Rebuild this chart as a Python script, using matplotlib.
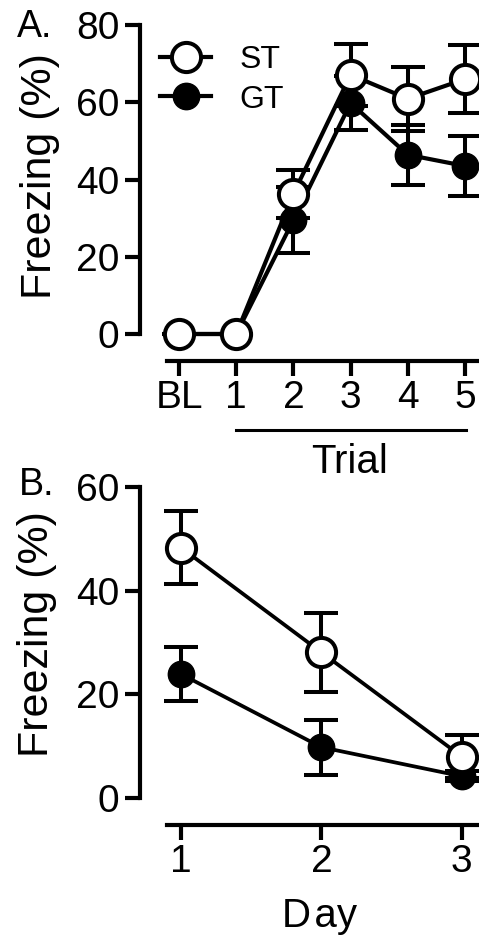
import matplotlib
matplotlib.use('Agg')
import matplotlib.pyplot as plt

plt.rcParams.update({
    'font.family': ['Liberation Sans', 'DejaVu Sans'],
    'font.size': 28,
    'axes.linewidth': 3.0,
    'xtick.major.width': 3.0,
    'ytick.major.width': 3.0,
    'xtick.major.size': 11,
    'ytick.major.size': 11,
})

# ── Panel A: acquisition (trials) ───────────────────────────────────────────
trial_labels = ['BL', '1', '2', '3', '4', '5']
st_trial = [0, 0, 36.3, 67.1, 60.9, 66.0]
st_trial_err = [0, 0, 6.2, 8.0, 8.3, 8.8]
gt_trial = [0, 0, 29.5, 59.8, 46.4, 43.5]
gt_trial_err = [0, 0, 8.6, 7.0, 7.8, 7.7]

# ── Panel B: extinction (days) ──────────────────────────────────────────────
day_labels = ['1', '2', '3']
st_day = [48.3, 28.1, 8.0]
st_day_err = [7.0, 7.6, 4.2]
gt_day = [23.9, 9.8, 4.2]
gt_day_err = [5.2, 5.3, 1.0]

W, H = 479, 941
HAIR = '\u200a'
fig = plt.figure(figsize=(W / 100, H / 100), dpi=100)


def px_axes(left, top, right, bottom):
    return fig.add_axes([left / W, 1 - bottom / H, (right - left) / W, (bottom - top) / H])


def style(ax):
    ax.spines[['top', 'right']].set_visible(False)
    ax.spines['left'].set_position(('outward', 19.4))
    ax.spines['bottom'].set_position(('outward', 19.4))
    ax.tick_params(axis='y', pad=4)
    ax.tick_params(axis='x', pad=3)


def draw(ax, x, st, st_err, gt, gt_err, lw):
    ekw = dict(fmt='none', ecolor='black', elinewidth=2.9, capsize=12,
               capthick=2.9, clip_on=False)
    ax.errorbar(x, gt, yerr=gt_err, zorder=2, **ekw)
    ax.errorbar(x, st, yerr=st_err, zorder=4, **ekw)
    l_gt, = ax.plot(x, gt, '-o', color='black', lw=lw, ms=19,
                    mfc='black', mec='black', mew=1.0, zorder=3,
                    clip_on=False, label='GT')
    l_st, = ax.plot(x, st, '-o', color='black', lw=lw, ms=21,
                    mfc='white', mec='black', mew=2.9, zorder=5,
                    clip_on=False, label='ST')
    return l_st, l_gt


# Panel A
axA = px_axes(167, 25, 479, 334)
xA = list(range(len(trial_labels)))
l_st, l_gt = draw(axA, xA, st_trial, st_trial_err, gt_trial, gt_trial_err, 3.0)
axA.set_xlim(-0.21, 5.245)
axA.set_ylim(0, 80)
axA.set_yticks([0, 20, 40, 60, 80])
axA.set_xticks(xA)
axA.set_xticklabels(trial_labels)
style(axA)
axA.legend(handles=[l_st, l_gt], loc='upper left', bbox_to_anchor=(160 / W, 1 - 45 / H),
           bbox_transform=fig.transFigure, frameon=False, fontsize=23,
           handlelength=1.6, handletextpad=0.9, labelspacing=0.3,
           borderpad=0, borderaxespad=0)

# Trial underline and label
fig.add_artist(plt.Line2D([236 / W, 466 / W], [1 - 430 / H] * 2, color='black', lw=2.2))
fig.text(350 / W, 1 - 462 / H, 'Trial', ha='center', va='center', fontsize=29)
fig.text(17 / W, 1 - 27 / H, 'A.', ha='left', va='center', fontsize=27)
fig.text(40 / W, 1 - 176 / H, 'Freezing (%)', rotation=90,
         ha='center', va='center', fontsize=31)

# Panel B
axB = px_axes(167, 487, 479, 798)
xB = [1, 2, 3]
draw(axB, xB, st_day, st_day_err, gt_day, gt_day_err, 2.7)
axB.set_xlim(0.90, 3.123)
axB.set_ylim(0, 60)
axB.set_yticks([0, 20, 40, 60])
axB.set_xticks(xB)
axB.set_xticklabels(day_labels)
style(axB)
fig.text(19 / W, 1 - 485 / H, 'B.', ha='left', va='center', fontsize=27)
fig.text(37 / W, 1 - 634 / H, 'Freezing (%)', rotation=90,
         ha='center', va='center', fontsize=31)
fig.text(320 / W, 1 - 916 / H, 'D' + HAIR + 'ay', ha='center', va='center', fontsize=29)

fig.savefig('out.png', dpi=100)
